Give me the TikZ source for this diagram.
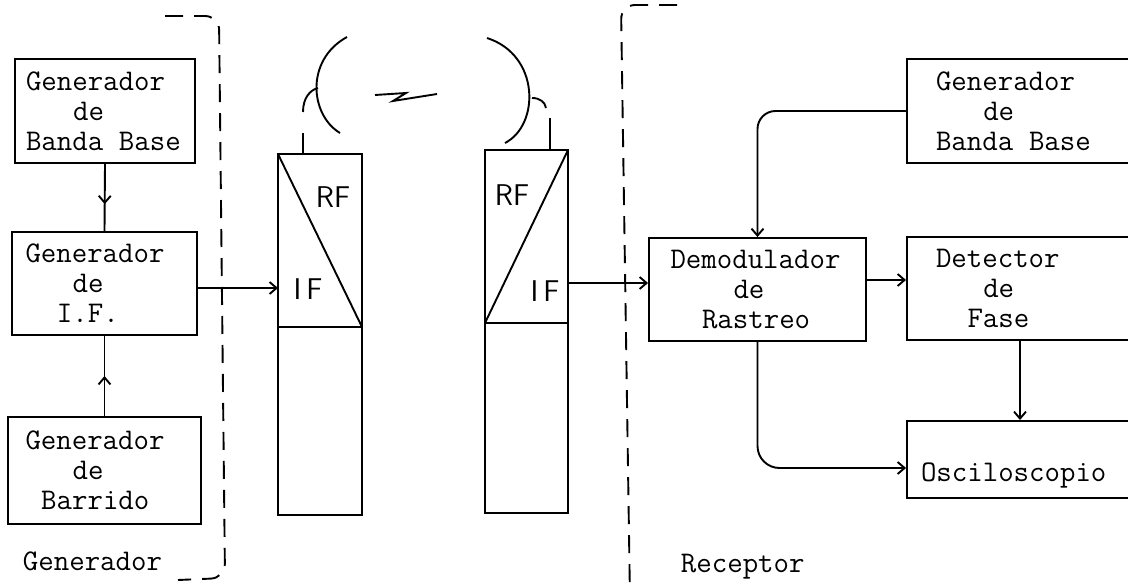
\documentclass[tikz,border=0pt]{standalone}
\usetikzlibrary{arrows.meta,positioning,decorations.markings}
\newcommand{\tabsp}[1]{\hspace*{\dimexpr 15.75pt*#1\relax}}
\begin{document}
\begin{tikzpicture}[x=1pt,y=-1pt,line width=1.9pt,
    >={Straight Barb[length=7pt,width=12pt]},
    bloque/.style={draw,inner sep=0pt,align=left,font=\ttfamily\fontsize{30}{30}\selectfont},
    etapa/.style={draw,inner sep=0pt,outer sep=0pt},
    rotulo/.style={font=\sffamily\fontsize{30}{30}\selectfont,inner sep=0pt},
    nota/.style={font=\ttfamily\fontsize{30}{30}\selectfont,inner sep=0pt,anchor=base west},
    flechamedio/.style={postaction={decorate},decoration={markings,mark=at position #1 with {\arrow{>}}}},
    limite/.style={dash pattern=on 18pt off 11pt,rounded corners=14pt}]
                \useasboundingbox (0,0) rectangle (1128,583);
                \clip (0,0) rectangle (1128,583);
                \node[bloque,minimum width=180pt,minimum height=104pt,text width=158pt] (bandaG) at (105,111) {Generador\\\tabsp{3}de\\Banda\tabsp{1}Base};
                \node[bloque,minimum width=185pt,minimum height=103pt,text width=158pt] (fi) at (104.5,283.5) {Generador\\\tabsp{3}de\\\tabsp{2}I.F.};
                \node[bloque,minimum width=193pt,minimum height=107pt,text width=158pt] (barrido) at (104.5,470.5) {Generador\\\tabsp{3}de\\\tabsp{1}Barrido};
                \node[nota] (gen) at (22,570) {Generador};
                \draw[flechamedio=0.6] (bandaG.south) -- (fi.north);
                \draw[flechamedio=0.5] (barrido.north) -- (fi.south);
                \draw[limite] (165,16) -- (219,16) -- (225,578) -- (178,580);
                \node[etapa,minimum width=84pt,minimum height=173pt] (txA) at (320,240.5) {};
                \node[etapa,minimum width=84pt,minimum height=188pt,below=0pt of txA] (txB) {};
                \draw (txA.north west) -- (txA.south east);
                \node[rotulo] (rfA) at (333,197) {RF};
                \node[rotulo] (ifA) at (308,289) {I\,F};
                \draw[->] ([yshift=-4.5pt]fi.east) -- ([yshift=-4.5pt]fi.east -| txA.west);
                \draw (txA.north west) ++(25,0) -- ++(0,-21);
                \draw (340,133) .. controls (310,115) and (305,60) .. (347,37);
                \draw (303,112) .. controls (303,98) and (310,90) .. (318,88);
                \draw (375,95) -- (406,93) -- (393,101) -- (437,94);
                \node[etapa,minimum width=83pt,minimum height=173pt] (rxA) at (526.5,236.5) {};
                \node[etapa,minimum width=83pt,minimum height=190pt,below=0pt of rxA] (rxB) {};
                \draw (rxA.south west) -- (rxA.north east);
                \node[rotulo] (rfB) at (512,195) {RF};
                \node[rotulo] (ifB) at (545,291) {I\,F};
                \draw (rxA.north east) ++(-18,0) -- ++(0,-32);
                \draw (505,143) .. controls (540,125) and (540,55) .. (487,38);
                \draw (532,98) .. controls (540,98) and (545,102) .. (546,108);
                \draw[limite] (677,5) -- (621,5) -- (630,600) -- (680,600);
                \node[bloque,minimum width=217pt,minimum height=103pt,text width=174pt] (demod) at (757.5,289.5) {Demodulador\\\tabsp{4}de\\\tabsp{2}Rastreo};
                \node[bloque,minimum width=243pt,minimum height=104pt,text width=185pt] (bandaR) at (1028.5,111) {Generador\\\tabsp{3}de\\Banda\tabsp{1}Base};
                \node[bloque,minimum width=243pt,minimum height=103pt,text width=185pt] (fase) at (1028.5,288.5) {Detector\\\tabsp{3}de\\\tabsp{2}Fase};
                \node[bloque,minimum width=243pt,minimum height=77pt,text width=215pt] (osc) at (1028.5,459.5) {\strut\\Osciloscopio};
                \node[nota] (rec) at (680,572) {Receptor};
                \coordinate (entrada) at ([yshift=6.5pt]demod.west);
                \draw[->] (entrada -| rxA.east) -- (entrada);
                \draw[->,rounded corners=18pt] (bandaR.west) -| (demod.north);
                \coordinate (salida) at ([yshift=9.5pt]demod.east);
                \draw[->] (salida) -- (salida -| fase.west);
                \coordinate (barrer) at ([yshift=-8.5pt]osc.west);
                \draw[->,rounded corners=22pt] (demod.south) |- (barrer);
                \coordinate (fasebaja) at ([xshift=-8.5pt]fase.south);
                \draw[->] (fasebaja) -- (fasebaja |- osc.north);
            \end{tikzpicture}
\end{document}
